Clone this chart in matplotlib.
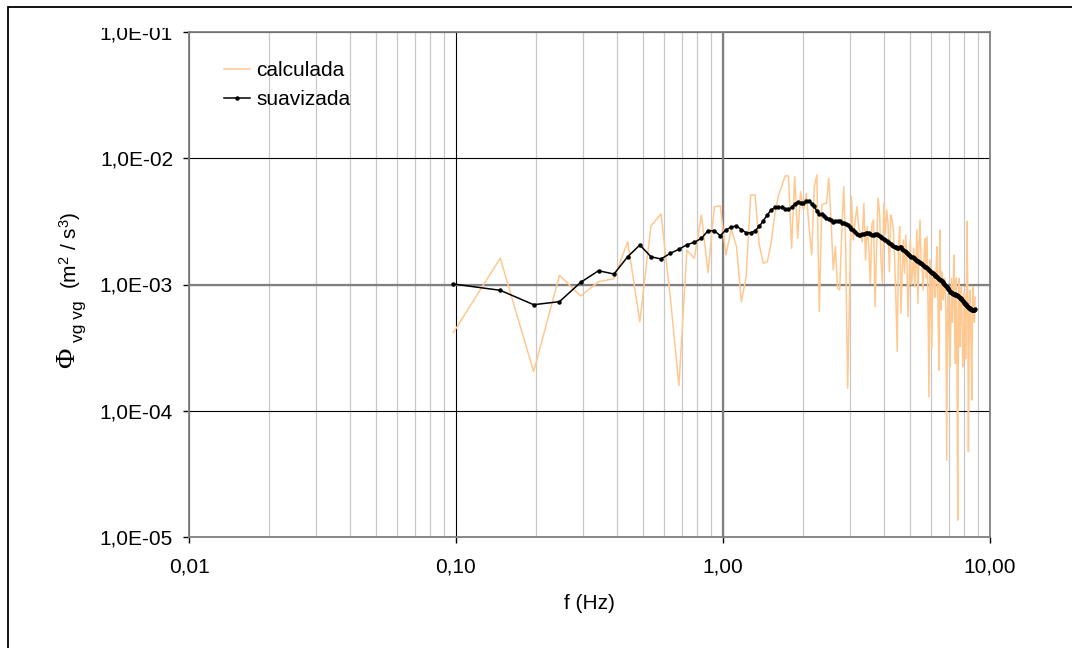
import numpy as np
import matplotlib
matplotlib.use("Agg")
import matplotlib.pyplot as plt
from matplotlib.patches import Rectangle
from matplotlib.transforms import Bbox
from matplotlib.ticker import FixedLocator, NullLocator, FixedFormatter

plt.rcParams['font.family'] = ['Liberation Sans', 'DejaVu Sans']
plt.rcParams['mathtext.fontset'] = 'custom'
plt.rcParams['mathtext.rm'] = 'Liberation Sans'
plt.rcParams['mathtext.it'] = 'Liberation Sans:italic'

# FFT bins: f = k * df, k = 2 .. 180
df = 0.048828
k_first, k_last = 2, 180

# log10 of the computed spectrum ("calculada"), one value per bin
calc_log = [
    -3.382, -2.792, -3.691, -2.927, -3.091, -2.978, -2.954, -2.661,                   # k 2-9
    -3.295, -2.536, -2.441, -3.100, -3.802, -2.727, -2.792, -2.449, -2.906, -2.384,   # k 10-19
    -2.376, -2.766, -2.560, -2.700, -3.136, -2.938, -2.291, -2.291, -2.687, -2.832,   # k 20-29
    -2.819, -2.674, -2.450, -2.300, -2.220, -2.140, -2.140, -2.713, -2.146, -2.634,   # k 30-39
    -2.265, -2.410, -2.277, -2.542, -2.766, -2.225, -2.132, -3.215, -2.370, -2.360,   # k 40-49
    -2.357, -2.158, -2.489, -2.885, -2.700, -3.030, -3.044, -2.600, -2.225, -2.687,   # k 50-59
    -3.823, -3.070, -2.304, -2.647, -2.500, -2.384, -2.542, -2.600, -2.661, -2.357,   # k 60-69
    -2.806, -2.542, -2.700, -2.990, -2.515, -2.489, -3.176, -2.700, -2.317, -2.423,   # k 70-79
    -2.800, -2.990, -2.357, -2.600, -2.410, -2.515, -2.899, -2.450, -2.489, -2.555,   # k 80-89
    -2.800, -3.123, -3.532, -2.700, -2.542, -3.228, -2.900, -2.647, -2.911, -2.608,   # k 90-99
    -2.800, -3.255, -2.950, -2.647, -3.000, -2.911, -2.713, -3.017, -2.850, -2.568,   # k 100-109
    -3.149, -2.700, -2.489, -2.800, -2.859, -3.044, -2.750, -2.634, -2.950, -2.620,   # k 110-119
    -3.150, -3.890, -2.806, -3.000, -3.506, -2.900, -2.885, -3.100, -3.097, -2.800,   # k 120-129
    -2.700, -3.300, -3.678, -2.568, -3.202, -2.900, -3.050, -3.123, -2.950, -2.964,   # k 130-139
    -3.202, -4.391, -3.200, -3.070, -3.400, -3.651, -3.281, -2.950, -3.300, -3.100,   # k 140-149
    -2.766, -3.300, -3.625, -2.951, -3.400, -4.866, -3.200, -2.951, -3.493, -3.200,   # k 150-159
    -3.017, -3.300, -3.651, -3.600, -3.070, -3.100, -3.590, -3.200, -2.500, -3.000,   # k 160-169
    -4.325, -3.500, -3.044, -3.200, -3.500, -3.915, -3.200, -3.017, -3.200, -3.300,   # k 170-179
    -3.100,                                                                           # k 180
]

# log10 of the smoothed spectrum ("suavizada")
smooth_log = [
    -2.996, -3.046, -3.160, -3.136, -2.983, -2.891, -2.917, -2.780,                   # k 2-9
    -2.687, -2.780, -2.798, -2.753, -2.721, -2.685, -2.666, -2.634, -2.574, -2.574,   # k 10-19
    -2.613, -2.568, -2.545, -2.536, -2.565, -2.590, -2.590, -2.575, -2.540, -2.495,   # k 20-29
    -2.450, -2.410, -2.390, -2.385, -2.390, -2.400, -2.404, -2.390, -2.360, -2.345,   # k 30-39
    -2.352, -2.352, -2.340, -2.336, -2.360, -2.380, -2.420, -2.441, -2.441, -2.455,   # k 40-49
    -2.470, -2.478, -2.490, -2.502, -2.498, -2.494, -2.500, -2.510, -2.516, -2.522,   # k 50-59
    -2.528, -2.545, -2.560, -2.570, -2.585, -2.600, -2.607, -2.605, -2.600, -2.597,   # k 60-69
    -2.593, -2.590, -2.595, -2.603, -2.608, -2.606, -2.603, -2.601, -2.605, -2.615,   # k 70-79
    -2.625, -2.634, -2.642, -2.650, -2.658, -2.664, -2.671, -2.678, -2.685, -2.692,   # k 80-89
    -2.700, -2.706, -2.712, -2.709, -2.706, -2.706, -2.715, -2.724, -2.731, -2.740,   # k 90-99
    -2.748, -2.757, -2.766, -2.773, -2.779, -2.786, -2.793, -2.800, -2.806, -2.812,   # k 100-109
    -2.817, -2.822, -2.827, -2.832, -2.837, -2.844, -2.852, -2.859, -2.865, -2.871,   # k 110-119
    -2.878, -2.886, -2.894, -2.902, -2.908, -2.911, -2.917, -2.923, -2.929, -2.935,   # k 120-129
    -2.940, -2.947, -2.954, -2.961, -2.968, -2.976, -2.983, -2.990, -2.997, -3.004,   # k 130-139
    -3.011, -3.017, -3.026, -3.036, -3.046, -3.056, -3.062, -3.066, -3.070, -3.074,   # k 140-149
    -3.077, -3.079, -3.082, -3.084, -3.087, -3.089, -3.091, -3.097, -3.103, -3.109,   # k 150-159
    -3.115, -3.120, -3.128, -3.136, -3.144, -3.152, -3.158, -3.164, -3.170, -3.176,   # k 160-169
    -3.181, -3.185, -3.189, -3.193, -3.197, -3.201, -3.202, -3.201, -3.200, -3.199,   # k 170-179
    -3.197,                                                                           # k 180
]

x_ticks = [0.01, 0.1, 1.0, 10.0]
x_ticklabels = ["0,01", "0,10", "1,00", "10,00"]
y_ticks = [1e-5, 1e-4, 1e-3, 1e-2, 1e-1]
y_ticklabels = ["1,0E-05", "1,0E-04", "1,0E-03", "1,0E-02", "1,0E-01"]

freq = np.arange(k_first, k_last + 1) * df
calc = 10 ** np.array(calc_log)
smooth = 10 ** np.array(smooth_log)

W, H = 1072, 648
FS = 15
fig = plt.figure(figsize=(W / 100, H / 100), dpi=100)
ax = fig.add_axes([189 / W, 1 - 537 / H, (990 - 189) / W, (537 - 32) / H])

ax.set_xscale("log")
ax.set_yscale("log")
ax.set_xlim(0.01, 10)
ax.set_ylim(1e-5, 1e-1)

ax.xaxis.set_major_locator(FixedLocator(x_ticks))
ax.xaxis.set_major_formatter(FixedFormatter(x_ticklabels))
minor_x = [m * d for d in (0.01, 0.1, 1.0) for m in range(2, 10)]
ax.xaxis.set_minor_locator(FixedLocator(minor_x))
ax.yaxis.set_major_locator(FixedLocator(y_ticks))
ax.yaxis.set_major_formatter(FixedFormatter(y_ticklabels))
ax.yaxis.set_minor_locator(NullLocator())

ax.tick_params(which="major", direction="out", length=4.5, width=1.0,
               color="black", labelsize=FS)
ax.tick_params(axis="x", which="major", pad=10.5)
ax.tick_params(axis="y", which="major", pad=7)
ax.tick_params(which="minor", length=0)

ax.set_axisbelow(True)
ax.grid(which="minor", axis="x", color="#c8c8c8", lw=0.9)
ax.grid(which="major", color="black", lw=0.8)
ax.axhline(1e-3, color="#808080", lw=1.6, zorder=1)
ax.axvline(1.0, color="#808080", lw=1.6, zorder=1)

for s in ax.spines.values():
    s.set_color("#808080")
    s.set_linewidth(1.3)

ax.plot(freq, calc, color="#ffc890", lw=1.1, label="calculada", zorder=3)
ax.plot(freq, smooth, color="black", lw=1.1, marker="o", ms=2.2,
        label="suavizada", zorder=4)

ax.legend(loc="upper left", bbox_to_anchor=(224 / W, 1 - 61 / H),
          bbox_transform=fig.transFigure, frameon=False, fontsize=FS,
          handlelength=1.25, handletextpad=0.3, labelspacing=0.5,
          borderpad=0, borderaxespad=0)

ax.set_xlabel("f (Hz)", fontsize=FS, labelpad=12.5)

# y label built from three rotated pieces: big Phi, subscript, units
fig.text(67.5 / W, 1 - 358 / H, "\u03a6", family="Liberation Serif",
         fontsize=20, rotation=90, ha="center", va="center")
fig.text(79 / W, 1 - 321.5 / H, "vg vg", fontsize=12.5, rotation=90,
         ha="center", va="center")
fig.text(70.5 / W, 1 - 250.5 / H, r"(m$^2$ / s$^3$)", fontsize=FS,
         rotation=90, ha="center", va="center")

# top tick label is cut off in the original chart
clip = Bbox.from_extents(0, 0, W, H - 28)
for lab in ax.get_yticklabels():
    if lab.get_text() == "1,0E-01":
        lab.set_clip_box(clip)
        lab.set_clip_on(True)

# outer chart border (only left and top edges are inside the picture)
fig.patches.append(Rectangle((8 / W, -0.1), 1.2, 1 - 7 / H + 0.1,
                             transform=fig.transFigure, fill=False,
                             ec="black", lw=1.3))

fig.savefig("out.png", dpi=100)
